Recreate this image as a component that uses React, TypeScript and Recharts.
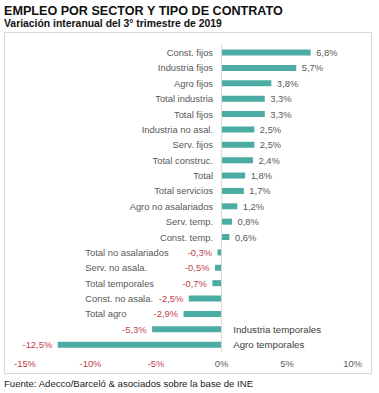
import { BarChart, Bar, XAxis, YAxis, ReferenceLine, LabelList } from "recharts"

const categories = [
  "Const. fijos",
  "Industria fijos",
  "Agro fijos",
  "Total industria",
  "Total fijos",
  "Industria no asal.",
  "Serv. fijos",
  "Total construc.",
  "Total",
  "Total servicios",
  "Agro no asalariados",
  "Serv. temp.",
  "Const. temp.",
  "Total no asalariados",
  "Serv. no asala.",
  "Total temporales",
  "Const. no asala.",
  "Total agro",
  "Industria temporales",
  "Agro temporales",
]

const values = [6.8, 5.7, 3.8, 3.3, 3.3, 2.5, 2.5, 2.4, 1.8, 1.7, 1.2, 0.8, 0.6, -0.3, -0.5, -0.7, -2.5, -2.9, -5.3, -12.5]

const xTicks = [-15, -10, -5, 0, 5, 10]

const data = categories.map((name, i) => ({ name, value: values[i] }))

const FONT = '"Liberation Sans", Arial, sans-serif'
const GREY = "#595959"
const RED = "#c0414b"
const TEAL = "#4aaca2"

const fmt = (v: number) => `${v.toFixed(1).replace(".", ",")}%`

function XTick(props: any) {
  const { x, y, payload } = props
  const v = payload.value as number
  return (
    <text x={x} y={y} dy="0.71em" textAnchor="middle" fontSize={9.4} fontFamily={FONT} fill={v < 0 ? RED : GREY}>
      {`${v}%`}
    </text>
  )
}

// value label + category label for each bar
function BarLabels(props: any) {
  const { x, y, width, height, index } = props
  const v = values[index]
  const name = categories[index]
  const left = Math.min(x, x + width)
  const right = Math.max(x, x + width)
  const zero = v >= 0 ? left : right
  const end = v >= 0 ? right : left
  const unit = Math.abs(width) / Math.abs(v)
  const cy = y + height / 2
  const common = { fontSize: 9.4, fontFamily: FONT, dominantBaseline: "central" as const }

  let nameEl
  if (v >= 0) {
    nameEl = <text x={zero - 8.5} y={cy} textAnchor="end" fill={GREY} {...common}>{name}</text>
  } else if (v > -5) {
    nameEl = <text x={zero - 10.4 * unit} y={cy} textAnchor="start" fill={GREY} {...common}>{name}</text>
  } else {
    nameEl = <text x={zero + 11.7} y={cy} textAnchor="start" fill="#404040" {...common} fontSize={9.7}>{name}</text>
  }

  return (
    <g>
      {nameEl}
      <text
        x={v >= 0 ? end + 5.5 : end - 5.5}
        y={cy}
        textAnchor={v >= 0 ? "start" : "end"}
        fill={v >= 0 ? GREY : RED}
        {...common}
      >
        {fmt(v)}
      </text>
    </g>
  )
}

export default function App() {
  return (
    <div style={{ position: "absolute", left: 0, top: 0, width: 379, height: 393, background: "#fff", fontFamily: FONT }}>
      <div style={{ position: "absolute", left: 4, top: 4, fontSize: 12.6, fontWeight: "bold", color: "#111", whiteSpace: "nowrap" }}>
        EMPLEO POR SECTOR Y TIPO DE CONTRATO
      </div>
      <div style={{ position: "absolute", left: 4, top: 18, fontSize: 10.4, fontWeight: "bold", color: "#111", whiteSpace: "nowrap" }}>
        Variación interanual del 3° trimestre de 2019
      </div>
      <div
        style={{
          position: "absolute",
          left: 4,
          top: 32,
          width: 368,
          height: 342,
          boxSizing: "border-box",
          border: "1px solid #d9d9d9",
        }}
      />
      <div style={{ position: "absolute", left: 0, top: 0 }}>
        <BarChart
          width={379}
          height={393}
          data={data}
          layout="vertical"
          margin={{ top: 44.6, right: 26.4, bottom: 11, left: 25 }}
          barSize={6}
        >
          <XAxis
            type="number"
            domain={[-15, 10]}
            ticks={xTicks}
            axisLine={false}
            tickLine={false}
            tick={<XTick />}
            height={30}
          />
          <YAxis type="category" dataKey="name" hide />
          <ReferenceLine x={0} stroke="#d9d9d9" strokeWidth={1} />
          <Bar dataKey="value" fill={TEAL} isAnimationActive={false}>
            <LabelList dataKey="value" content={<BarLabels />} />
          </Bar>
        </BarChart>
      </div>
      <div style={{ position: "absolute", left: 4, top: 378, fontSize: 9.6, color: "#1a1a1a", whiteSpace: "nowrap" }}>
        Fuente: Adecco/Barceló &amp; asociados sobre la base de INE
      </div>
    </div>
  )
}
